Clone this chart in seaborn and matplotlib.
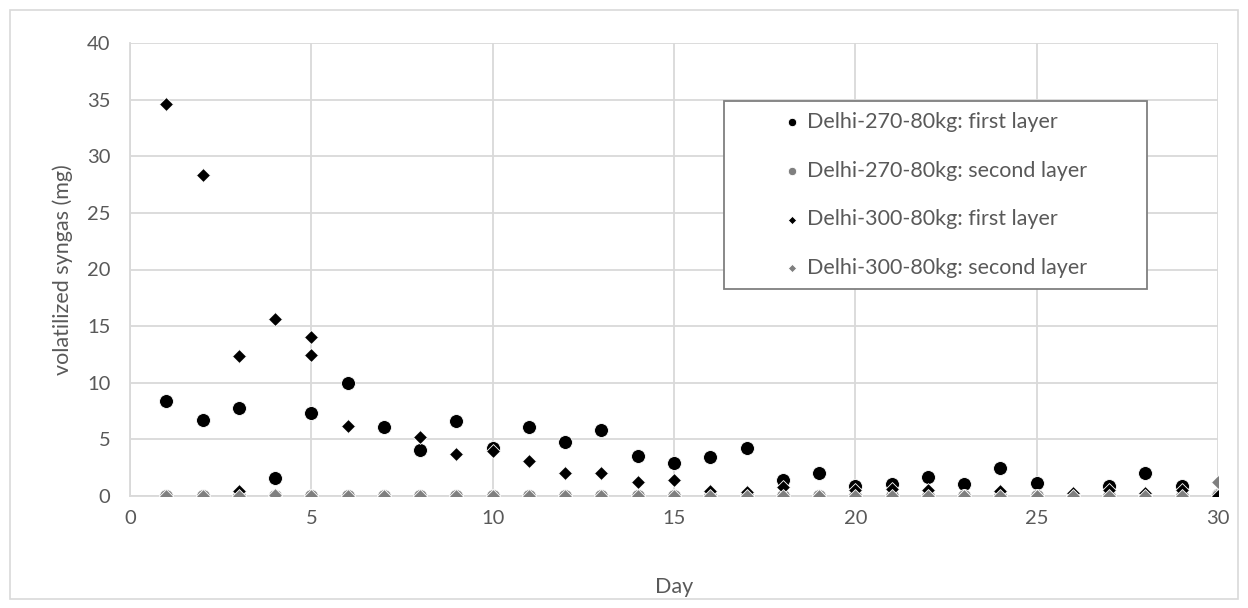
import numpy as np
import pandas as pd
import matplotlib
matplotlib.use("Agg")
import matplotlib.pyplot as plt
from matplotlib.patches import Rectangle
import seaborn as sns

# ---------------- data ----------------
days = list(range(1, 31))

d270_first = [8.35, 6.7, 7.75, 1.6, 7.35, 10.0, 6.1, 4.1, 6.65, 4.2,
              6.1, 4.8, 5.8, 3.55, 2.9, 3.4, 4.25, 1.4, 2.0, 0.85,
              1.1, 1.7, 1.05, 2.5, 1.15, 0.0, 0.9, 2.0, 0.9, 0.1]
d270_second = [0.0] * 30

d300_first_days = [1, 2, 3, 3, 4, 5, 5, 6, 7, 8, 9, 10, 11, 12, 13, 14, 15,
                   16, 17, 18, 19, 20, 21, 22, 23, 24, 25, 26, 27, 28, 29, 30]
d300_first = [34.65, 28.35, 12.4, 0.4, 15.65, 14.0, 12.45, 6.2, 0.0, 5.2, 3.7, 4.0,
              3.05, 2.0, 2.05, 1.25, 1.45, 0.45, 0.35, 0.8, 0.0, 0.5, 0.6, 0.5,
              0.0, 0.4, 0.0, 0.3, 0.5, 0.3, 0.5, 0.0]
d300_second = [0.0, 0.0, 0.0, 0.1, 0.0, 0.0, 0.0, 0.0, 0.0, 0.0,
               0.0, 0.0, 0.0, 0.0, 0.0, 0.0, 0.0, 0.0, 0.0, 0.0,
               0.0, 0.0, 0.0, 0.0, 0.0, 0.0, 0.0, 0.0, 0.0, 1.25]

labels = ["Delhi-270-80kg: first layer", "Delhi-270-80kg: second layer",
          "Delhi-300-80kg: first layer", "Delhi-300-80kg: second layer"]
x_ticks = [0, 5, 10, 15, 20, 25, 30]
y_ticks = [0, 5, 10, 15, 20, 25, 30, 35, 40]

# ---------------- style ----------------
sns.set_theme(style="white")
plt.rcParams['font.family'] = ['Lato', 'DejaVu Sans']
TXT = "#595959"
GRID = "#d9d9d9"
FS_TICK = 14.5
FS_LAB = 15.5
FS_LEG = 15.5

fig = plt.figure(figsize=(12.48, 6.08), dpi=100)
ax = fig.add_axes([130 / 1248, 1 - 496 / 608, 1088 / 1248, 453 / 608])

series = [
    (days, d270_first, "black", "o", 100),
    (days, d270_second, "#7f7f7f", "o", 100),
    (d300_first_days, d300_first, "black", "D", 50),
    (days, d300_second, "#7f7f7f", "D", 50),
]
for (xs, ys, col, mk, s), lab in zip(series, labels):
    sns.scatterplot(x=xs, y=ys, ax=ax, color=col, marker=mk, s=s,
                    edgecolor="white", linewidth=0.6, label=lab, zorder=3)

ax.set_xlim(0, 30)
ax.set_ylim(0, 40)
ax.set_xticks(x_ticks)
ax.set_yticks(y_ticks)
ax.grid(True, color=GRID, linewidth=1.3)
ax.set_axisbelow(True)
for side in ["top", "right"]:
    ax.spines[side].set_visible(False)
for side in ["left", "bottom"]:
    ax.spines[side].set_color(GRID)
    ax.spines[side].set_linewidth(1.3)
ax.tick_params(axis="x", length=0, labelsize=FS_TICK, colors=TXT, pad=10)
ax.tick_params(axis="y", length=0, labelsize=FS_TICK, colors=TXT, pad=14)
ax.set_xlabel("Day", fontsize=FS_LAB, color=TXT, labelpad=36)
ax.set_ylabel("volatilized syngas (mg)", fontsize=FS_LAB, color=TXT, labelpad=10)

# legend (frame drawn separately to get Excel-like padding)
leg = ax.legend(loc="upper left",
                bbox_to_anchor=((783 - 130) / 1088, (496 - 112) / 453),
                borderaxespad=0, borderpad=0, frameon=False,
                fontsize=FS_LEG, markerscale=0.6,
                labelspacing=1.33, handletextpad=0.3, handlelength=0.8)
for t in leg.get_texts():
    t.set_color(TXT)
leg.set_zorder(6)
ax.add_patch(Rectangle(((724 - 130) / 1088, (496 - 289) / 453),
                       (1147 - 724) / 1088, (289 - 101) / 453,
                       transform=ax.transAxes, facecolor="white",
                       edgecolor="#7f7f7f", linewidth=1.3, zorder=5))

fig.patches.append(Rectangle((10 / 1248, 9 / 608), 1 - 20 / 1248, 1 - 19 / 608,
                             transform=fig.transFigure, fill=False,
                             edgecolor=GRID, linewidth=1.2))

fig.savefig("out.png", dpi=100, facecolor="white")
